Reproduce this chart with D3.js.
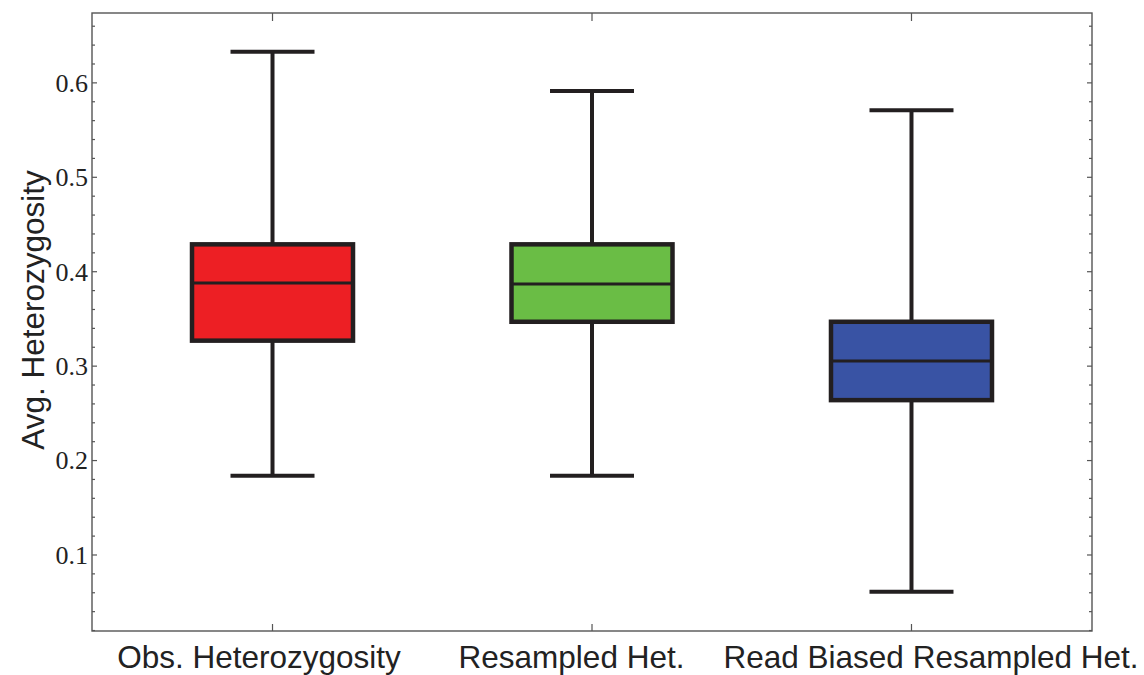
<!DOCTYPE html>
<html>
<head>
<meta charset="utf-8">
<script src="https://cdn.jsdelivr.net/npm/d3@7"></script>
<style>
  body { margin: 0; background: #fff; }
</style>
</head>
<body>
<div id="chart"></div>
<script>
  var categories = ['Obs. Heterozygosity', 'Resampled Het.', 'Read Biased Resampled Het.']
  var colors = ['#ED1F24', '#6ABD45', '#3953A4']
  // five-number summaries
  var mins = [0.184, 0.184, 0.061]
  var q1s = [0.327, 0.347, 0.264]
  var medians = [0.388, 0.387, 0.3055]
  var q3s = [0.429, 0.429, 0.347]
  var maxs = [0.633, 0.5915, 0.571]
  var yTicks = [0.1, 0.2, 0.3, 0.4, 0.5, 0.6]

  var W = 1144, H = 675
  var margin = {left: 92, top: 13, right: 52, bottom: 44}
  var innerW = W - margin.left - margin.right
  var innerH = H - margin.top - margin.bottom
  // the category labels in the original sit a little off their ticks
  var labelShift = [-14, -21, 19]

  var boxes = categories.map(function(c, i) {
    return {name: c, color: colors[i], min: mins[i], q1: q1s[i], med: medians[i], q3: q3s[i], max: maxs[i]}
  })

  var svg = d3.select('#chart').append('svg').attr('width', W).attr('height', H)
  var g = svg.append('g').attr('transform', 'translate(' + margin.left + ',' + margin.top + ')')

  var y = d3.scaleLinear().domain([0.0195, 0.674]).range([innerH, 0])
  var x = d3.scalePoint().domain(categories).range([0, innerW]).padding(0.565)

  var minorTicks = d3.range(0.02, 0.68, 0.02).filter(function(v) { return y(v) >= 0 && y(v) <= innerH })
  var isMajor = function(d) { return Math.abs(Math.round(d * 10) - d * 10) < 1e-6 }

  // frame
  g.append('rect').attr('width', innerW).attr('height', innerH)
    .attr('fill', 'none').attr('stroke', '#555').attr('stroke-width', 1.4)

  // left axis
  var left = d3.axisLeft(y).tickValues(yTicks).tickSize(0).tickPadding(4).tickFormat(d3.format('.1f'))
  var la = g.append('g').call(left)
  la.select('.domain').remove()
  la.selectAll('text').attr('font-family', '"Liberation Serif", serif').attr('font-size', 26).attr('fill', '#222')

  // inward ticks left and right
  g.selectAll('.minorL').data(minorTicks).enter().append('line')
    .attr('x1', 0).attr('x2', function(d) { return isMajor(d) ? 5 : 3 })
    .attr('y1', function(d) { return y(d) }).attr('y2', function(d) { return y(d) })
    .attr('stroke', '#555').attr('stroke-width', 1.2)
  g.selectAll('.minorR').data(minorTicks).enter().append('line')
    .attr('x1', innerW).attr('x2', function(d) { return innerW - (isMajor(d) ? 5 : 3) })
    .attr('y1', function(d) { return y(d) }).attr('y2', function(d) { return y(d) })
    .attr('stroke', '#555').attr('stroke-width', 1.2)

  // bottom axis
  var bottom = d3.axisBottom(x).tickSize(0)
  var ba = g.append('g').attr('transform', 'translate(0,' + innerH + ')').call(bottom)
  ba.select('.domain').remove()
  ba.selectAll('text').attr('font-family', '"Liberation Sans", Arial, sans-serif').attr('font-size', 31.5).attr('fill', '#222')
    .attr('y', 37).attr('dy', 0)
    .attr('dx', function(d, i) { return labelShift[i] })

  g.selectAll('.xt').data(categories).enter().append('line')
    .attr('x1', function(d) { return x(d) }).attr('x2', function(d) { return x(d) })
    .attr('y1', innerH).attr('y2', innerH - 7).attr('stroke', '#555').attr('stroke-width', 1.2)
  g.selectAll('.xtt').data(categories).enter().append('line')
    .attr('x1', function(d) { return x(d) }).attr('x2', function(d) { return x(d) })
    .attr('y1', 0).attr('y2', 8).attr('stroke', '#555').attr('stroke-width', 1.2)

  // y label
  svg.append('text')
    .attr('transform', 'translate(44,310) rotate(-90)')
    .attr('text-anchor', 'middle')
    .attr('font-family', '"Liberation Sans", Arial, sans-serif').attr('font-size', 31.5).attr('fill', '#222')
    .text('Avg. Heterozygosity')

  // boxes
  var boxW = 161, capW = 84
  var stroke = '#231F20'
  var bg = g.selectAll('.box').data(boxes).enter().append('g')
    .attr('transform', function(d) { return 'translate(' + x(d.name) + ',0)' })

  bg.append('line').attr('x1', 0).attr('x2', 0)
    .attr('y1', function(d) { return y(d.max) }).attr('y2', function(d) { return y(d.min) })
    .attr('stroke', stroke).attr('stroke-width', 4)
  bg.append('line').attr('x1', -capW / 2).attr('x2', capW / 2)
    .attr('y1', function(d) { return y(d.max) }).attr('y2', function(d) { return y(d.max) })
    .attr('stroke', stroke).attr('stroke-width', 4)
  bg.append('line').attr('x1', -capW / 2).attr('x2', capW / 2)
    .attr('y1', function(d) { return y(d.min) }).attr('y2', function(d) { return y(d.min) })
    .attr('stroke', stroke).attr('stroke-width', 4)
  bg.append('rect')
    .attr('x', -boxW / 2).attr('width', boxW)
    .attr('y', function(d) { return y(d.q3) })
    .attr('height', function(d) { return y(d.q1) - y(d.q3) })
    .attr('fill', function(d) { return d.color })
    .attr('stroke', stroke).attr('stroke-width', 4.5)
  bg.append('line').attr('x1', -boxW / 2).attr('x2', boxW / 2)
    .attr('y1', function(d) { return y(d.med) }).attr('y2', function(d) { return y(d.med) })
    .attr('stroke', stroke).attr('stroke-width', 3)
</script>
</body>
</html>
